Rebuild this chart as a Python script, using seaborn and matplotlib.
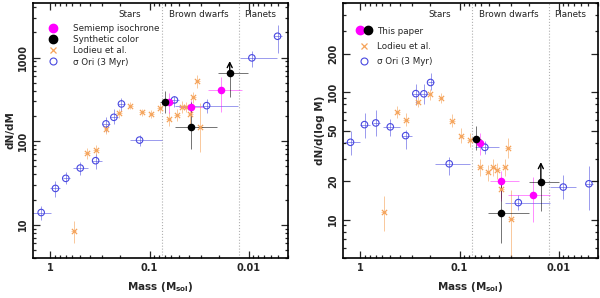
import numpy as np
import pandas as pd
import matplotlib
matplotlib.use("Agg")
import matplotlib.pyplot as plt
from matplotlib.lines import Line2D
from matplotlib.legend_handler import HandlerTuple
from matplotlib.ticker import LogLocator, FixedLocator, FixedFormatter, NullFormatter
import seaborn as sns

# ---------------- data: left panel (dN/dM) ----------------
L_sig_mass = [1.24, 0.89, 0.70, 0.50, 0.35, 0.275, 0.229, 0.192, 0.126, 0.056, 0.0265, 0.00926, 0.0051]
L_sig_val = [14.0, 27.2, 35.9, 47.7, 58.4, 161, 193, 279, 103, 311, 266, 992, 1800]
L_sig_mmax = [1.52, 1.0, 0.75, 0.59, 0.38, 0.30, 0.25, 0.21, 0.159, 0.062, 0.055, 0.0123, 0.0056]
L_sig_mmin = [0.98, 0.81, 0.64, 0.42, 0.30, 0.25, 0.21, 0.175, 0.074, 0.050, 0.0128, 0.0052, 0.0046]
L_sig_vmin = [11.5, 21.3, 30.6, 39.4, 46, 127, 161, 232, 88, 258, 220, 765, 1150]
L_sig_vmax = [16.9, 33.6, 42.4, 55.7, 70, 193, 243, 330, 120, 351, 320, 1210, 2484]

L_lod_mass = [0.585, 0.43, 0.344, 0.275, 0.203, 0.156, 0.12, 0.096, 0.079, 0.064, 0.0529, 0.0471, 0.0430, 0.039, 0.036, 0.0331, 0.0309]
L_lod_val = [8.5, 72.3, 78.5, 140, 215, 266, 221, 212, 247, 184, 206, 254, 258, 212, 335, 520, 149]
L_lod_vmin = [6.0, 62, 68, 122, 190, 240, 200, 190, 215, 150, 175, 215, 225, 150, 290, 430, 74]
L_lod_vmax = [11.2, 83, 90, 160, 240, 295, 245, 235, 285, 225, 240, 300, 295, 260, 390, 620, 290]
L_lod_mmin = [0.55, 0.40, 0.32, 0.26, 0.19, 0.146, 0.112, 0.090, 0.074, 0.060, 0.0497, 0.0443, 0.0404, 0.0367, 0.0338, 0.0311, 0.0290]
L_lod_mmax = [0.62, 0.46, 0.37, 0.29, 0.216, 0.166, 0.128, 0.102, 0.084, 0.068, 0.0561, 0.0500, 0.0456, 0.0413, 0.0382, 0.0351, 0.0328]

L_sem_mass = [0.063, 0.0383, 0.0191]
L_sem_val = [292, 254, 410]
L_sem_mmax = [0.072, 0.050, 0.0256]
L_sem_mmin = [0.055, 0.029, 0.0117]
L_sem_vmin = [220, 200, 226]
L_sem_vmax = [380, 310, 592]

L_syn_mass = [0.069, 0.0383, 0.0155]
L_syn_val = [297, 149, 649]
L_syn_mmax = [0.078, 0.055, 0.0204]
L_syn_mmin = [0.061, 0.021, 0.0101]
L_syn_vmin = [220, 80, 335]
L_syn_vmax = [400, 297, 649]
L_syn_lowlim = [False, False, True]

# ---------------- data: right panel (dN/dlogM) ----------------
R_sig_mass = [1.26, 0.91, 0.70, 0.50, 0.35, 0.276, 0.229, 0.196, 0.127, 0.0555, 0.0255, 0.00897, 0.00494]
R_sig_val = [40.4, 55.6, 57.3, 53.4, 45.6, 97.3, 97, 119, 27.4, 36.9, 13.6, 18.0, 19.1]
R_sig_mmax = [1.48, 1.0, 0.75, 0.59, 0.38, 0.30, 0.25, 0.21, 0.178, 0.069, 0.0347, 0.0122, 0.0054]
R_sig_mmin = [1.0, 0.81, 0.64, 0.40, 0.30, 0.25, 0.21, 0.18, 0.079, 0.040, 0.0122, 0.0066, 0.0045]
R_sig_vmin = [32, 43.7, 45, 45, 35.9, 79.8, 80, 103, 22.5, 33, 12.0, 14.4, 12.0]
R_sig_vmax = [49.3, 68.7, 73, 61, 50.8, 116, 116, 142, 31, 41, 15.7, 22.5, 26.3]

R_lod_mass = [0.58, 0.426, 0.343, 0.264, 0.2, 0.155, 0.12, 0.096, 0.079, 0.0624, 0.0518, 0.046, 0.0417, 0.038, 0.0351, 0.0325, 0.0303]
R_lod_val = [11.4, 70, 60.8, 84.2, 96, 90, 59.8, 45.6, 42.4, 25.7, 23.5, 25.9, 24.4, 17.4, 25.9, 36.5, 10.2]
R_lod_vmin = [8.1, 63, 54, 76, 87, 82, 53, 40, 37, 22, 20, 22, 21, 14.9, 22, 30.5, 5.2]
R_lod_vmax = [15.3, 78, 68, 93, 105, 99, 67, 52, 48, 30, 27, 30, 28, 21.4, 30, 43.6, 17]
R_lod_mmin = [0.55, 0.40, 0.32, 0.25, 0.19, 0.146, 0.112, 0.090, 0.074, 0.058, 0.0487, 0.0433, 0.0392, 0.0357, 0.0330, 0.0305, 0.0285]
R_lod_mmax = [0.62, 0.45, 0.37, 0.28, 0.213, 0.165, 0.128, 0.102, 0.084, 0.067, 0.0551, 0.0489, 0.0443, 0.0404, 0.0373, 0.0346, 0.0322]

R_sem_mass = [0.0618, 0.0377, 0.0183]
R_sem_val = [39.7, 20.0, 15.6]
R_sem_mmax = [0.070, 0.049, 0.0323]
R_sem_mmin = [0.054, 0.025, 0.0122]
R_sem_vmin = [32, 14, 9.5]
R_sem_vmax = [48, 24, 21.4]

R_syn_mass = [0.0678, 0.0377, 0.0151]
R_syn_val = [43.2, 11.3, 19.9]
R_syn_mmax = [0.077, 0.052, 0.020]
R_syn_mmin = [0.060, 0.020, 0.010]
R_syn_vmin = [35, 6.6, 11.6]
R_syn_vmax = [54.6, 20, 19.9]
R_syn_lowlim = [False, False, True]

boundaries = [0.075, 0.0125]
region_labels = ["Stars", "Brown dwarfs", "Planets"]
region_x = [0.157, 0.0316, 0.0077]

left_yticks = [10, 100, 1000]
right_yticks = [10, 20, 50, 100, 200]
xticks = [1, 0.1, 0.01]
xticklabels = ["1", "0.1", "0.01"]

# ---------------- style ----------------
sns.set_theme(style="ticks")
plt.rcParams["font.family"] = ["DejaVu Sans"]

C_MAG = "#ff00ff"
C_BLK = "#000000"
C_ORA = "#f5a35a"
C_BLU = "#4848e0"

fig = plt.figure(figsize=(6.0, 2.98), dpi=100)
axL = fig.add_axes([33 / 600, 40 / 298, 255 / 600, 255 / 298])
axR = fig.add_axes([343 / 600, 40 / 298, 255 / 600, 255 / 298])


def df_of(mass, val):
    return pd.DataFrame({"mass": mass, "val": val})


def errs(mass, val, mmin, mmax, vmin, vmax, ax, color, alpha, lw=0.7):
    m = np.array(mass); v = np.array(val)
    xerr = [m - np.array(mmin), np.array(mmax) - m]
    yerr = [v - np.array(vmin), np.array(vmax) - v]
    ax.errorbar(m, v, xerr=xerr, yerr=yerr, fmt="none", ecolor=color,
                alpha=alpha, elinewidth=lw, capsize=0, zorder=2)


def arrows(mass, val, lowlim, ax, factor):
    for m, v, f in zip(mass, val, lowlim):
        if f:
            ax.annotate("", xy=(m, v * factor), xytext=(m, v),
                        arrowprops=dict(arrowstyle="->", color="black", lw=1.0,
                                        mutation_scale=9, shrinkA=0, shrinkB=0),
                        zorder=5)


def draw_panel(ax, sig, lod, sem, syn, lowlim, arrow_factor):
    errs(*sig, ax, C_BLU, 0.55)
    errs(*lod, ax, C_ORA, 0.6)
    errs(*sem, ax, C_MAG, 0.45)
    errs(*syn, ax, C_BLK, 0.55)
    sns.scatterplot(data=df_of(sig[0], sig[1]), x="mass", y="val", ax=ax, marker="o",
                    s=22, facecolors="none", edgecolor=C_BLU, linewidth=0.8, zorder=3)
    sns.scatterplot(data=df_of(lod[0], lod[1]), x="mass", y="val", ax=ax, marker="x",
                    s=14, color=C_ORA, linewidth=0.9, zorder=3)
    sns.scatterplot(data=df_of(sem[0], sem[1]), x="mass", y="val", ax=ax, marker="o",
                    s=30, color=C_MAG, edgecolor=C_MAG, linewidth=0, zorder=4)
    sns.scatterplot(data=df_of(syn[0], syn[1]), x="mass", y="val", ax=ax, marker="o",
                    s=30, color=C_BLK, edgecolor=C_BLK, linewidth=0, zorder=4)
    arrows(syn[0], syn[1], lowlim, ax, arrow_factor)
    for b in boundaries:
        ax.axvline(b, color="#b0b0b0", ls=":", lw=0.8, zorder=1)
    for lab, xx in zip(region_labels, region_x):
        ax.text(xx, 0.955, lab, transform=ax.get_xaxis_transform(), ha="center",
                va="center", fontsize=6.3, color="#222222")
    ax.set_xscale("log")
    ax.set_yscale("log")
    ax.set_xlim(1.5, 0.004)
    ax.xaxis.set_major_locator(FixedLocator(xticks))
    ax.xaxis.set_major_formatter(FixedFormatter(xticklabels))
    ax.xaxis.set_minor_locator(LogLocator(base=10, subs=np.arange(2, 10), numticks=20))
    ax.xaxis.set_minor_formatter(NullFormatter())
    ax.tick_params(which="both", direction="in", top=True, right=True, width=0.9)
    ax.tick_params(which="major", length=5, labelsize=7)
    ax.tick_params(which="minor", length=2.5)
    for sp in ax.spines.values():
        sp.set_linewidth(1.2)
        sp.set_color("black")
    ax.set_xlabel("Mass (M$_{\\mathbf{sol}}$)", fontsize=7.5, fontweight="bold", labelpad=5)
    ax.set_facecolor("white")


sigL = (L_sig_mass, L_sig_val, L_sig_mmin, L_sig_mmax, L_sig_vmin, L_sig_vmax)
lodL = (L_lod_mass, L_lod_val, L_lod_mmin, L_lod_mmax, L_lod_vmin, L_lod_vmax)
semL = (L_sem_mass, L_sem_val, L_sem_mmin, L_sem_mmax, L_sem_vmin, L_sem_vmax)
synL = (L_syn_mass, L_syn_val, L_syn_mmin, L_syn_mmax, L_syn_vmin, L_syn_vmax)
draw_panel(axL, sigL, lodL, semL, synL, L_syn_lowlim, 1.4)
axL.set_ylim(4, 4500)
axL.yaxis.set_major_locator(FixedLocator(left_yticks))
axL.yaxis.set_major_formatter(FixedFormatter([str(v) for v in left_yticks]))
axL.yaxis.set_minor_locator(LogLocator(base=10, subs=np.arange(2, 10), numticks=20))
axL.yaxis.set_minor_formatter(NullFormatter())
axL.set_ylabel("dN/dM", fontsize=7.5, fontweight="bold", labelpad=2)

sigR = (R_sig_mass, R_sig_val, R_sig_mmin, R_sig_mmax, R_sig_vmin, R_sig_vmax)
lodR = (R_lod_mass, R_lod_val, R_lod_mmin, R_lod_mmax, R_lod_vmin, R_lod_vmax)
semR = (R_sem_mass, R_sem_val, R_sem_mmin, R_sem_mmax, R_sem_vmin, R_sem_vmax)
synR = (R_syn_mass, R_syn_val, R_syn_mmin, R_syn_mmax, R_syn_vmin, R_syn_vmax)
draw_panel(axR, sigR, lodR, semR, synR, R_syn_lowlim, 1.42)
axR.set_ylim(5, 500)
axR.yaxis.set_major_locator(FixedLocator(right_yticks))
axR.yaxis.set_major_formatter(FixedFormatter([str(v) for v in right_yticks]))
axR.yaxis.set_minor_locator(LogLocator(base=10, subs=np.arange(2, 10), numticks=20))
axR.yaxis.set_minor_formatter(NullFormatter())
axR.set_ylabel("dN/d(log M)", fontsize=7.5, fontweight="bold", labelpad=2)

for ax in (axL, axR):
    for t in ax.get_yticklabels():
        t.set_rotation(90)
        t.set_va("center")
        t.set_fontweight("bold")
    for t in ax.get_xticklabels():
        t.set_fontweight("bold")

# legends
h_mag = Line2D([], [], marker="o", ls="none", color=C_MAG, markersize=6)
h_blk = Line2D([], [], marker="o", ls="none", color=C_BLK, markersize=6)
h_ora = Line2D([], [], marker="x", ls="none", color=C_ORA, markersize=4, mew=0.9)
h_blu = Line2D([], [], marker="o", ls="none", mfc="none", mec=C_BLU, markersize=5, mew=0.8)

axL.legend([h_mag, h_blk, h_ora, h_blu],
           ["Semiemp isochrone", "Synthetic color", "Lodieu et al.", "\u03c3 Ori (3 Myr)"],
           loc="upper left", bbox_to_anchor=(0.045, 0.935), frameon=False, fontsize=6.3,
           handlelength=1.0, handletextpad=1.8, labelspacing=0.25, borderpad=0)
axR.legend([(h_mag, h_blk), h_ora, h_blu],
           ["This paper", "Lodieu et al.", "\u03c3 Ori (3 Myr)"],
           handler_map={tuple: HandlerTuple(ndivide=None, pad=0.1)},
           loc="upper left", bbox_to_anchor=(0.035, 0.925), frameon=False, fontsize=6.3,
           handlelength=1.8, handletextpad=0.6, labelspacing=0.7, borderpad=0)

fig.savefig("out.png", dpi=100, facecolor="white")
